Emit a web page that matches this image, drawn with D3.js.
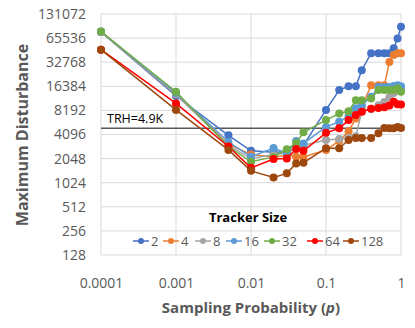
<!DOCTYPE html>
<html><head><meta charset="utf-8">
<script src="https://cdn.jsdelivr.net/npm/d3@7/dist/d3.min.js"></script>
<style>body{margin:0;background:#fff;} text{font-family:"Open Sans",sans-serif;}</style>
</head><body><svg id="c" width="415" height="328"></svg>
<script>
const probs = [0.0001,0.001,0.005,0.01,0.02,0.03,0.04,0.05,0.1,0.15,0.2,0.25,0.3,0.4,0.5,0.6,0.7,0.8,0.9,1];
const seriesNames = ["2","4","8","16","32","64","128"];
const s2   = [78000,12400,4000,2560,2450,2500,2800,3000,8300,14700,16400,16400,26000,42400,42400,42400,42400,49000,65000,91000];
const s4   = [78000,13000,3100,2300,2150,2250,2160,2150,2620,3400,4500,6500,9000,16900,16900,16900,33000,40400,42400,42400];
const s8   = [78000,13000,3000,2050,2300,2400,2800,3000,3500,3600,3700,3900,8000,8500,9500,10400,12000,13500,14500,15000];
const s16  = [79000,13500,3300,2160,2780,2400,3390,3170,5100,5900,7000,8700,9500,12100,16000,16000,16000,16500,16900,16400];
const s32  = [79000,14000,2900,1870,2150,2680,3200,4360,6200,7500,8000,11000,11000,11500,14700,14700,14700,14700,15500,14000];
const s64  = [47000,10000,2900,1570,2020,2060,2700,2560,4300,4900,6200,7200,7900,8600,8800,9000,9400,10500,9800,9700];
const s128 = [47000,8300,2630,1440,1190,1340,1780,1820,2760,2760,3500,3700,3700,3700,4250,4950,4900,4900,5100,4950];
const colors = ["#4472C4","#ED7D31","#A5A5A5","#5B9BD5","#70AD47","#FF0000","#9E480E"];
const yTicks = [128,256,512,1024,2048,4096,8192,16384,32768,65536,131072];
const xTicks = [0.0001,0.001,0.01,0.1,1];
const trh = 4900;
const trhLabel = "TRH=4.9K";

const allSeries = [s2,s4,s8,s16,s32,s64,s128];
const svg = d3.select("#c");
const L=101,R=401,T=14,B=255;
const x = d3.scaleLog().domain([0.0001,1]).range([L,R]);
const y = d3.scaleLog().base(2).domain([128,131072]).range([B,T]);
const grid="#d9d9d9", txt="#595959";

// gridlines
svg.append("g").selectAll("line").data(yTicks).join("line")
 .attr("x1",L).attr("x2",R).attr("y1",d=>y(d)).attr("y2",d=>y(d))
 .attr("stroke",grid).attr("stroke-width",1);
svg.append("g").selectAll("line").data(xTicks).join("line")
 .attr("y1",T).attr("y2",B).attr("x1",d=>x(d)).attr("x2",d=>x(d))
 .attr("stroke",grid).attr("stroke-width",1);

// axes labels
const ya = d3.axisLeft(y).tickValues(yTicks).tickFormat(d3.format("d")).tickSize(0).tickPadding(15);
const yg = svg.append("g").attr("transform",`translate(${L},0)`).call(ya);
yg.select(".domain").remove();
yg.selectAll("text").attr("fill",txt).style("font-size","14px");
const xa = d3.axisBottom(x).tickValues(xTicks).tickFormat(d=>String(d)).tickSize(0).tickPadding(23);
const xg = svg.append("g").attr("transform",`translate(0,${B})`).call(xa);
xg.select(".domain").remove();
xg.selectAll("text").attr("fill",txt).style("font-size","14px");

// titles
svg.append("text").attr("transform","translate(28,135) rotate(-90)").attr("text-anchor","middle")
 .attr("fill",txt).style("font-size","16px").style("font-weight","bold").text("Maximum Disturbance");
const xt = svg.append("text").attr("x",251).attr("y",313).attr("text-anchor","middle")
 .attr("fill",txt).style("font-size","15px").style("font-weight","bold");
xt.append("tspan").text("Sampling Probability (");
xt.append("tspan").style("font-style","italic").text("p");
xt.append("tspan").text(")");

// TRH line
svg.append("line").attr("x1",L).attr("x2",R).attr("y1",y(trh)).attr("y2",y(trh))
 .attr("stroke","#595959").attr("stroke-width",1.5);
svg.append("text").attr("x",107).attr("y",y(trh)-5).attr("fill","#000").style("font-size","12.5px").text(trhLabel);

// series
const line = d3.line().x((d,i)=>x(probs[i])).y(d=>y(d));
allSeries.forEach((s,k)=>{
  const g = svg.append("g");
  g.append("path").attr("d",line(s)).attr("fill","none").attr("stroke",colors[k]).attr("stroke-width",1.5);
  g.selectAll("circle").data(s).join("circle").attr("cx",(d,i)=>x(probs[i])).attr("cy",d=>y(d))
   .attr("r",4).attr("fill",colors[k]);
});

// legend
svg.append("text").attr("x",248).attr("y",222).attr("text-anchor","middle").attr("fill","#000")
 .style("font-size","13px").style("font-weight","bold").text("Tracker Size");
const legX = [133,163,195,226,264,307,343];
seriesNames.forEach((n,k)=>{
  const g = svg.append("g").attr("transform",`translate(${legX[k]},241)`);
  g.append("line").attr("x1",0).attr("x2",16).attr("stroke",colors[k]).attr("stroke-width",1.5);
  g.append("circle").attr("cx",8).attr("r",3).attr("fill",colors[k]);
  g.append("text").attr("x",18).attr("y",4.5).attr("fill",txt).style("font-size","13px").text(n);
});
</script></body></html>
